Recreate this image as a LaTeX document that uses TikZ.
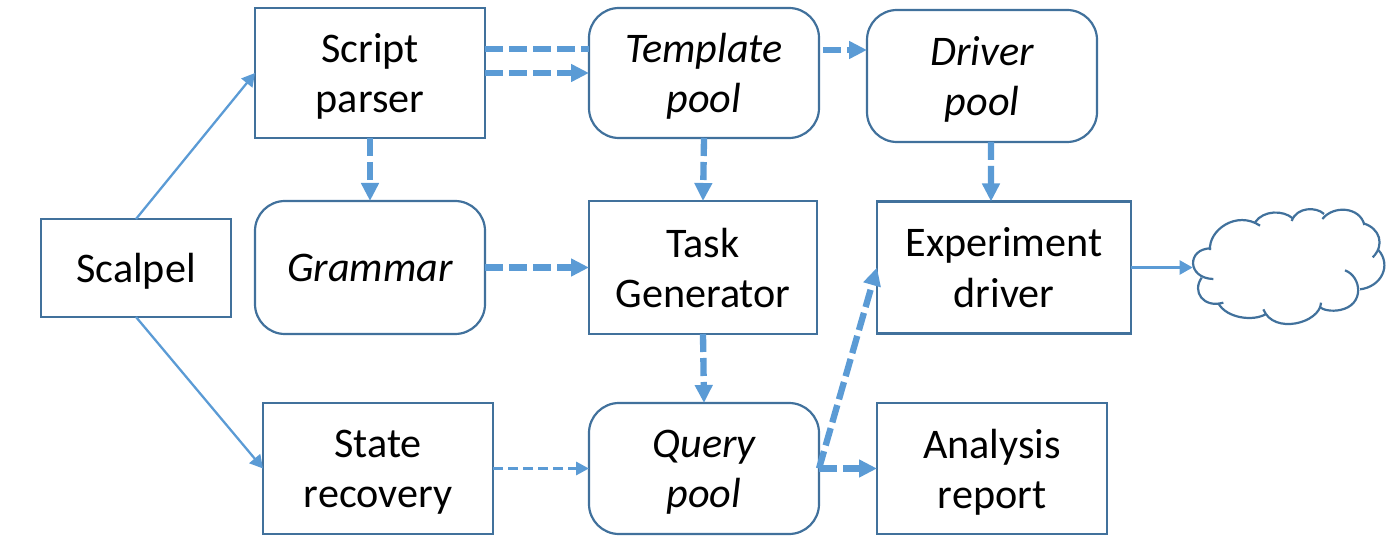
\documentclass[tikz,border=0pt]{standalone}
\usepackage{fontspec}
\setmainfont{Carlito}
\usetikzlibrary{arrows.meta,positioning}
\definecolor{dfline}{RGB}{65,113,156}
\definecolor{dfflow}{RGB}{91,155,213}
\tikzstyle{module} = [rectangle, minimum width=4.6cm, minimum height=2.6cm, align=center, text depth=0pt, draw=dfline, line width=1.25pt, outer sep=0pt, font=\fontsize{24}{28.5}\selectfont]
\tikzstyle{pool} = [module, rounded corners=0.6cm, font=\fontsize{24}{28.5}\selectfont\itshape]
\tikzstyle{thinflow} = [line width=1.3pt, color=dfflow, -{Triangle[length=0.26cm,width=0.28cm]}]
\tikzstyle{thickflow} = [line width=3.6pt, color=dfflow, dash pattern=on 0.36cm off 0.12cm, -{Triangle[length=0.36cm,width=0.34cm]}]
\tikzstyle{lightflow} = [line width=1.8pt, color=dfflow, dash pattern=on 0.2cm off 0.1cm, -{Triangle[length=0.26cm,width=0.26cm]}]
\begin{document}
\begin{tikzpicture}
\useasboundingbox (0,0) rectangle (27.8,10.88);
% Left and top row
\node (scalpel) [module, minimum width=3.8cm, minimum height=1.96cm] at (2.72,5.52) {Scalpel};
\node (script) [module] at (7.40,9.42) {Script\\parser};
\node (template) [pool, right=2.08cm of script] {Template\\pool};
\node (driver) [pool, right=0.96cm of template, yshift=-0.06cm, minimum height=2.64cm] {Driver\\pool};

% Middle row
\node (grammar) [pool, below=1.26cm of script, minimum height=2.66cm] {Grammar};
\node (task) [module, right=2.08cm of grammar, minimum width=4.56cm, minimum height=2.66cm] {Task\\Generator};
\node (experiment) [module, right=1.2cm of task, minimum width=5.08cm, minimum height=2.64cm] {Experiment\\driver};

% Bottom row
\node (state) [module, below=1.38cm of grammar, xshift=0.16cm, minimum height=2.62cm] {State\\recovery};
\node (query) [pool, right=1.92cm of state, minimum height=2.62cm] {Query\\pool};
\node (analysis) [module, right=1.16cm of query, minimum height=2.62cm] {Analysis\\report};

% Cloud, drawn in its own small grid
\begin{scope}[shift={(22.4,7.08)}, x=0.00667cm, y=-0.00667cm, draw=dfline, line width=1.25pt]
\coordinate (cloudin) at (218,230);
\draw (270,180) .. controls (265,120) and (350,60) .. (420,107);
\draw (405,97) .. controls (430,60) and (490,60) .. (518,85);
\draw (515,93) .. controls (530,50) and (590,50) .. (612,72);
\draw (607,87) .. controls (640,45) and (720,50) .. (733,105);
\draw (730,100) .. controls (780,115) and (795,165) .. (758,202);
\draw (775,180) .. controls (815,225) and (785,290) .. (720,298);
\draw (675,241) .. controls (725,260) and (735,345) .. (660,360) .. controls (635,365) and (610,360) .. (600,352);
\draw (603,338) .. controls (600,400) and (460,435) .. (430,358);
\draw (438,372) .. controls (400,395) and (320,385) .. (295,340);
\draw (310,338) .. controls (250,355) and (215,305) .. (245,263);
\draw (280,267) .. controls (200,265) and (200,175) .. (273,175);
\end{scope}

% Connectors
\draw[thinflow] (scalpel.north) -- (script.west);
\draw[thinflow] (scalpel.south) -- (state.west);
\draw[thickflow, -] ([yshift=0.48cm]script.east) -- ([yshift=0.48cm]template.west);
\draw[thickflow] (script.east) -- (template.west);
\draw[thickflow] ([xshift=0.08cm,yshift=0.46cm]template.east) -- ([yshift=0.46cm]template.east -| driver.west);
\draw[thickflow] (script.south) -- (grammar.north);
\draw[thickflow] (template.south) -- (task.north);
\draw[thickflow] ([xshift=0.18cm]driver.south) -- ([xshift=-0.26cm]experiment.north);
\draw[thickflow] (grammar.east) -- (task.west);
\draw[thickflow] (task.south) -- (query.north);
\draw[lightflow] (state.east) -- (query.west);
\draw[thickflow] (query.east) -- (experiment.west);
\draw[thickflow] (query.east) -- (analysis.west);
\draw[thinflow] (experiment.east) -- (experiment.east -| cloudin);
\end{tikzpicture}
\end{document}
